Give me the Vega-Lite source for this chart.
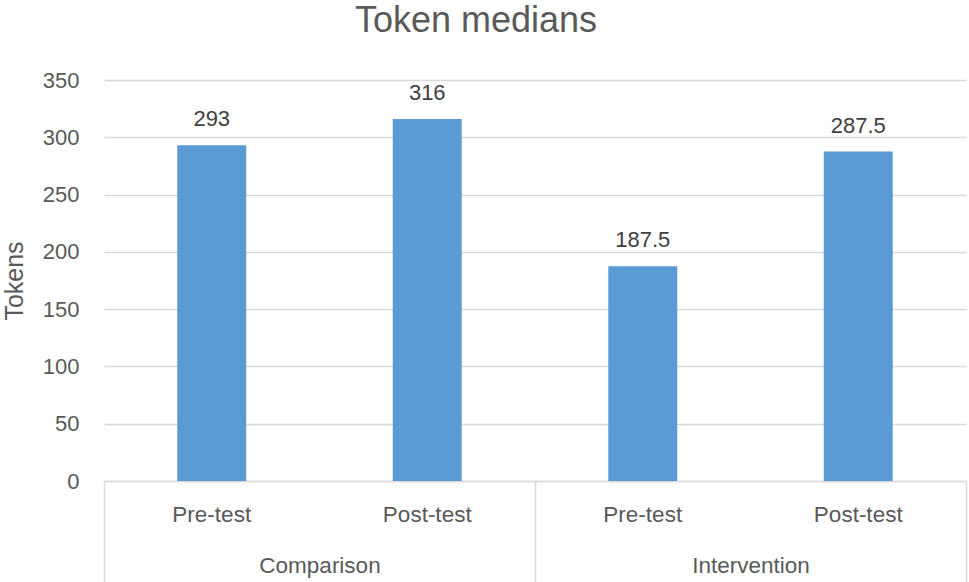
{
  "$schema": "https://vega.github.io/schema/vega-lite/v6.json",
  "autosize": {"type": "none"},
  "padding": {"left": 104, "top": 80, "right": 3, "bottom": 101},
  "width": 862,
  "height": 401,
  "background": "white",
  "title": {
    "text": "Token medians",
    "font": "Liberation Sans",
    "fontSize": 36,
    "fontWeight": "normal",
    "color": "#595959",
    "anchor": "middle",
    "baseline": "alphabetic",
    "dx": -59,
    "offset": 1
  },
  "config": {
    "view": {"stroke": null},
    "font": "Liberation Sans"
  },
  "layer": [
    {
      "data": {
        "values": [
          {"group": "Comparison", "test": "Pre-test", "key": "Comparison|Pre-test", "tokens": 293},
          {"group": "Comparison", "test": "Post-test", "key": "Comparison|Post-test", "tokens": 316},
          {"group": "Intervention", "test": "Pre-test", "key": "Intervention|Pre-test", "tokens": 187.5},
          {"group": "Intervention", "test": "Post-test", "key": "Intervention|Post-test", "tokens": 287.5}
        ]
      },
      "encoding": {
        "x": {
          "field": "key",
          "type": "nominal",
          "sort": null,
          "scale": {"paddingInner": 0, "paddingOuter": 0},
          "axis": {
            "orient": "bottom",
            "title": null,
            "labelExpr": "split(datum.label, '|')[1]",
            "labelAngle": 0,
            "labelFont": "Liberation Sans",
            "labelFontSize": 22.5,
            "labelColor": "#595959",
            "labelPadding": 22,
            "ticks": false,
            "domain": true,
            "domainColor": "#d9d9d9",
            "domainWidth": 1.5
          }
        },
        "y": {
          "field": "tokens",
          "type": "quantitative",
          "scale": {"domain": [0, 350]},
          "axis": {
            "values": [0, 50, 100, 150, 200, 250, 300, 350],
            "title": "Tokens",
            "titleFont": "Liberation Sans",
            "titleFontSize": 25,
            "titleFontWeight": "normal",
            "titleColor": "#595959",
            "titlePadding": 15,
            "labelFont": "Liberation Sans",
            "labelFontSize": 22,
            "labelColor": "#595959",
            "labelPadding": 25,
            "domain": false,
            "ticks": false,
            "grid": true,
            "gridColor": "#d9d9d9",
            "gridWidth": 1.5
          }
        }
      },
      "layer": [
        {"mark": {"type": "bar", "color": "#5b9bd5", "width": {"band": 0.32}}},
        {
          "mark": {"type": "text", "baseline": "alphabetic", "dy": -19, "fontSize": 22, "color": "#404040", "font": "Liberation Sans"},
          "encoding": {"text": {"field": "tokens", "type": "quantitative"}}
        }
      ]
    },
    {
      "data": {"values": [{"group": "Comparison"}, {"group": "Intervention"}]},
      "mark": {"type": "bar", "opacity": 0},
      "encoding": {
        "x": {
          "field": "group",
          "type": "nominal",
          "sort": null,
          "scale": {"paddingInner": 0, "paddingOuter": 0},
          "axis": {
            "orient": "bottom",
            "title": null,
            "labelAngle": 0,
            "labelFont": "Liberation Sans",
            "labelFontSize": 22.5,
            "labelColor": "#595959",
            "ticks": true,
            "tickBand": "extent",
            "tickSize": 101,
            "tickColor": "#d9d9d9",
            "tickWidth": 1.5,
            "labelPadding": -28,
            "domain": false
          }
        }
      }
    }
  ],
  "resolve": {"scale": {"x": "independent"}, "axis": {"x": "independent"}}
}
